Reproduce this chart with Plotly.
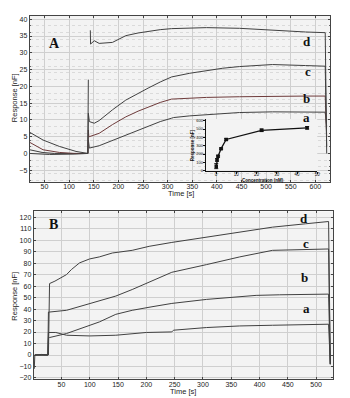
import plotly.graph_objects as go

# ---------------- Panel A (time course) ----------------
a_A_t = [20, 45, 70, 138, 139, 140, 141, 161, 188, 215, 240, 262, 285, 308, 312, 345, 379, 412, 446, 513, 580, 620, 623]
a_A_y = [1.1, 0.3, 0, 0, 4.0, 1.8, 1.6, 2.3, 3.9, 5.5, 7.0, 8.2, 9.5, 10.5, 10.7, 11.2, 11.6, 11.9, 12.2, 12.4, 12.4, 12.3, 8]
b_A_t = [20, 47, 80, 110, 138, 139, 140, 141, 161, 188, 215, 240, 262, 285, 308, 345, 379, 446, 513, 580, 620, 623]
b_A_y = [3.3, 1.1, 0.3, 0, 0, 7, 5.0, 5.0, 6.0, 8.6, 10.9, 12.6, 13.9, 15.2, 16.2, 16.5, 16.7, 16.9, 17.1, 17.1, 17.1, 5]
c_A_t = [20, 47, 80, 114, 138, 139, 141, 151, 161, 188, 215, 240, 262, 285, 308, 345, 379, 412, 446, 513, 580, 620, 623]
c_A_y = [6.3, 4.0, 2.1, 0.6, 0, 12, 9.5, 9.0, 9.8, 13.0, 15.9, 18.0, 19.6, 21.3, 22.8, 23.9, 24.7, 25.4, 25.9, 26.5, 26.2, 26.0, 2]
d_A_t = [20, 60, 110, 138, 139, None, 143, 143.5, 151, 161, 188, 215, 240, 262, 285, 308, 379, 446, 513, 580, 620, 623]
d_A_y = [0, -0.3, -0.2, 0, 22, None, 36.7, 32.6, 33.6, 32.8, 33.1, 35.1, 35.9, 36.5, 36.9, 37.2, 37.5, 37.3, 36.7, 36.2, 36.0, 0]

# inset: dose response
conc = [0.1, 0.5, 1, 2.5, 5, 22.5, 45]
resp = [55, 130, 175, 265, 375, 485, 515]
resp_err = [30, 15, 10, 8, 10, 15, 15]

# ---------------- Panel B (time course) ----------------
a_B_t = [3, 26, 27, 29, 40, 59, 100, 146, 200, 245, 248, 306.5, 365, 423, 481, 522, 525]
a_B_y = [0, 0, 19.6, 19.6, 19.6, 17.2, 16.6, 17.2, 19.6, 20.1, 21.6, 23.9, 25.3, 25.9, 26.2, 26.8, -8]
b_B_t = [3, 26, 27, 29, 59, 88, 117, 146, 175, 210, 245, 306.5, 394, 435, 522, 525]
b_B_y = [0, 0, 15.2, 15.2, 18.7, 23.9, 28.8, 35.4, 38.9, 42, 44.9, 48.4, 51.9, 52.4, 53, -8]
c_B_t = [3, 26, 27, 29, 59, 82, 117, 146, 175, 210, 245, 306.5, 365, 423, 470, 522, 525]
c_B_y = [0, 0, 37.4, 37.4, 38.9, 42, 47, 51.3, 57, 64.3, 72, 78.7, 85.4, 91.1, 91.7, 92.3, -8]
d_B_t = [2, 3, 15, 26, 27, 29, 38.5, 59, 67.6, 82, 99.7, 117, 140, 175, 205, 245, 306.5, 365, 423, 481, 522, 525]
d_B_y = [-12, 0, 0.5, 0, 0, 62.2, 64.3, 70, 74.4, 80.2, 83.6, 85.4, 88.8, 91.1, 94.6, 98, 102.7, 107.5, 111.3, 114.2, 116.2, -8]

A_xticks = [50, 100, 150, 200, 250, 300, 350, 400, 450, 500, 550, 600]
A_yticks = [-5, 0, 5, 10, 15, 20, 25, 30, 35, 40]
B_xticks = [50, 100, 150, 200, 250, 300, 350, 400, 450, 500]
B_yticks = [-20, -10, 0, 10, 20, 30, 40, 50, 60, 70, 80, 90, 100, 110, 120]
inset_xticks = [0, 10, 20, 30, 40, 50]
inset_yticks = [0, 100, 200, 300, 400, 500, 600]

W, H = 350, 398
def px_x(p):
    return p / W
def px_y(p):
    return 1 - p / H

fig = go.Figure()
line_col = "#404040"
red_col = "#6e3b3b"

for t, y, col in [(a_A_t, a_A_y, line_col), (b_A_t, b_A_y, red_col), (c_A_t, c_A_y, line_col), (d_A_t, d_A_y, line_col)]:
    fig.add_trace(go.Scatter(x=t, y=y, mode="lines", line=dict(color=col, width=1),
                             xaxis="x", yaxis="y", showlegend=False, hoverinfo="skip"))

fig.add_trace(go.Scatter(x=conc, y=resp, mode="lines+markers",
                         line=dict(color="#111", width=1.3),
                         marker=dict(symbol="square", size=3.5, color="#111"),
                         error_y=dict(type="data", array=resp_err, color="#111", thickness=1, width=2),
                         xaxis="x3", yaxis="y3", showlegend=False, hoverinfo="skip"))

for t, y, col in [(a_B_t, a_B_y, line_col), (b_B_t, b_B_y, line_col), (c_B_t, c_B_y, line_col), (d_B_t, d_B_y, line_col)]:
    fig.add_trace(go.Scatter(x=t, y=y, mode="lines", line=dict(color=col, width=1),
                             xaxis="x2", yaxis="y2", showlegend=False, hoverinfo="skip"))

tickfont = dict(size=7, family="Liberation Sans", color="#222")
titlefont = dict(size=7.5, family="Liberation Sans", color="#222")
small = dict(size=4.5, family="Liberation Sans", color="#111")

def main_axis(**kw):
    d = dict(showline=True, linecolor="#444", linewidth=1, mirror="ticks", ticks="inside",
             ticklen=2, tickcolor="#444", showgrid=True, gridcolor="#cfcfcf", gridwidth=1,
             zeroline=False, tickfont=tickfont,
             minor=dict(ticks="inside", ticklen=1.5, tickcolor="#666", showgrid=True,
                        gridcolor="#dadada", griddash="dot", gridwidth=1))
    d.update(kw)
    return d

fig.update_layout(
    width=W, height=H, margin=dict(l=0, r=0, t=0, b=0),
    paper_bgcolor="white", plot_bgcolor="#f3f3f3",
    xaxis=main_axis(domain=[px_x(30), px_x(333)], anchor="y", range=[20, 630],
                    tickmode="array", tickvals=A_xticks, ticklabelstandoff=-2),
    yaxis=main_axis(domain=[px_y(182), px_y(15)], anchor="x", range=[-8.4, 41],
                    tickmode="array", tickvals=A_yticks),
    xaxis2=main_axis(domain=[px_x(34), px_x(336)], anchor="y2", range=[1, 530],
                     tickmode="array", tickvals=B_xticks, ticklabelstandoff=-2),
    yaxis2=main_axis(domain=[px_y(381), px_y(212)], anchor="x2", range=[-21, 125],
                     tickmode="array", tickvals=B_yticks),
    xaxis3=dict(domain=[px_x(207.7), px_x(320)], anchor="y3", range=[-5, 50],
                tickmode="array", tickvals=inset_xticks, showline=True, linecolor="#111",
                linewidth=1.2, ticks="outside", ticklen=2, tickcolor="#111", showgrid=False,
                zeroline=False, tickfont=small, ticklabelstandoff=-3),
    yaxis3=dict(domain=[px_y(171), px_y(119)], anchor="x3", range=[0, 620],
                tickmode="array", tickvals=inset_yticks, showline=True, linecolor="#111",
                linewidth=1.2, ticks="outside", ticklen=2, tickcolor="#111", showgrid=False,
                zeroline=False, tickfont=dict(size=4, family="Liberation Sans", color="#111"),
                ticklabelstandoff=-1),
)

ann = []
# axis titles
for txt, x, y, ang, f in [("Time [s]", 183, 194, 0, titlefont), ("Time [s]", 185, 393, 0, titlefont),
                          ("Response [nF]", 14, 97, -90, titlefont), ("Response [nF]", 15, 297, -90, titlefont),
                          ("<b>Concentration (nM)</b>", 265, 181, 0, small),
                          ("<b>Response [nF]</b>", 195, 145, -90, small)]:
    ann.append(dict(text=txt, x=px_x(x), y=px_y(y), xref="paper", yref="paper", textangle=ang,
                    showarrow=False, font=f, xanchor="center", yanchor="middle"))
for txt, x, y in [("A", 47, 33), ("B", 47, 225)]:
    ann.append(dict(text="<b>%s</b>" % txt, x=px_x(x), y=px_y(y), xref="paper", yref="paper",
                    showarrow=False, font=dict(family="Liberation Serif", size=14, color="#111")))
serif = dict(family="Liberation Serif", size=13, color="#111")
for txt, x, y in [("d", 316, 31), ("c", 316, 61), ("b", 315, 89), ("a", 315, 108),
                  ("d", 313, 219), ("c", 314, 244), ("b", 313, 288), ("a", 315, 319)]:
    ann.append(dict(text="<b>%s</b>" % txt, x=px_x(x), y=px_y(y), xref="paper", yref="paper",
                    showarrow=False, font=serif))
fig.update_layout(annotations=ann)

fig.write_html("out.html", config={"displayModeBar": False},
               post_script="document.body.style.margin='0';")
